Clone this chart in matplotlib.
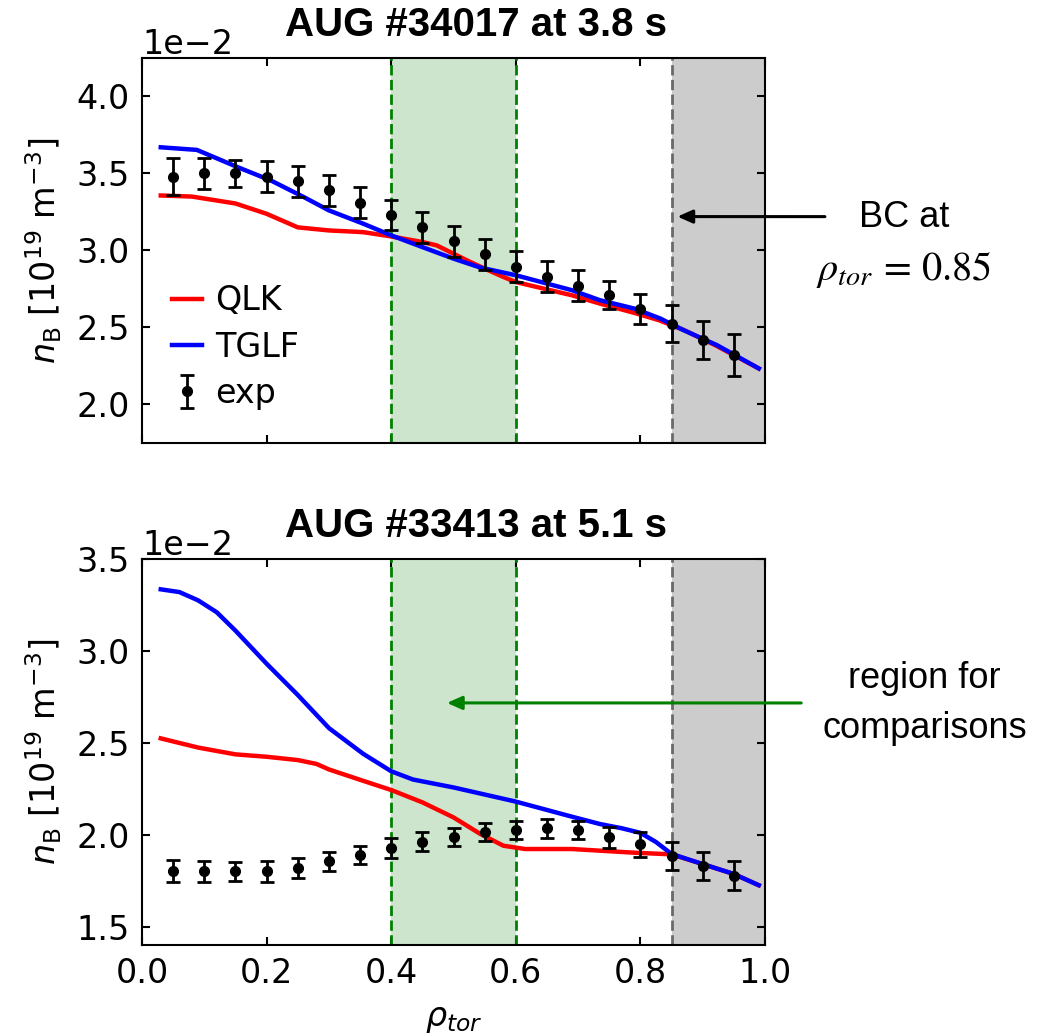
import matplotlib
matplotlib.use("Agg")
import matplotlib.pyplot as plt

# experimental points (both shots share the same radial grid)
rho_exp = [0.05, 0.10, 0.15, 0.20, 0.25, 0.30, 0.35, 0.40, 0.45, 0.50,
           0.55, 0.60, 0.65, 0.70, 0.75, 0.80, 0.85, 0.90, 0.95]

# AUG #34017 at 3.8 s  (values in 1e-2 * 10^19 m^-3)
exp_top = [3.48, 3.50, 3.50, 3.48, 3.45, 3.39, 3.31, 3.23, 3.15, 3.06,
           2.975, 2.895, 2.83, 2.77, 2.71, 2.62, 2.525, 2.42, 2.32]
err_top = [0.12, 0.10, 0.09, 0.10, 0.10, 0.10, 0.10, 0.10, 0.10, 0.10,
           0.10, 0.10, 0.10, 0.10, 0.09, 0.10, 0.12, 0.125, 0.135]
rho_qlk_top = [0.03, 0.08, 0.15, 0.20, 0.25, 0.30, 0.355, 0.40, 0.45, 0.473, 0.50,
               0.527, 0.55, 0.58, 0.60, 0.69, 0.735, 0.79, 0.83, 0.87, 0.92, 0.99]
qlk_top = [3.357, 3.35, 3.305, 3.238, 3.15, 3.13, 3.119, 3.091, 3.055, 3.033, 2.979,
           2.925, 2.882, 2.828, 2.795, 2.709, 2.655, 2.595, 2.547, 2.483, 2.385, 2.234]
rho_tglf_top = [0.03, 0.088, 0.154, 0.207, 0.26, 0.30, 0.355, 0.40, 0.45, 0.50,
                0.543, 0.60, 0.69, 0.735, 0.79, 0.832, 0.869, 0.923, 0.99]
tglf_top = [3.67, 3.653, 3.54, 3.454, 3.346, 3.26, 3.174, 3.098, 3.022, 2.947,
            2.889, 2.839, 2.742, 2.677, 2.623, 2.558, 2.483, 2.385, 2.234]

# AUG #33413 at 5.1 s
exp_bot = [1.80, 1.80, 1.80, 1.80, 1.82, 1.855, 1.891, 1.928, 1.962, 1.989,
           2.013, 2.027, 2.034, 2.024, 1.985, 1.949, 1.886, 1.832, 1.777]
err_bot = [0.06, 0.055, 0.05, 0.055, 0.055, 0.05, 0.05, 0.055, 0.05, 0.05,
           0.05, 0.05, 0.05, 0.05, 0.056, 0.068, 0.076, 0.076, 0.078]
rho_qlk_bot = [0.03, 0.09, 0.15, 0.20, 0.25, 0.28, 0.30, 0.355, 0.40, 0.45, 0.50,
               0.543, 0.58, 0.615, 0.69, 0.735, 0.79, 0.85, 0.90, 0.95, 0.99]
qlk_bot = [2.524, 2.474, 2.437, 2.424, 2.406, 2.385, 2.355, 2.293, 2.243, 2.176, 2.094,
           2.004, 1.94, 1.922, 1.922, 1.913, 1.902, 1.893, 1.84, 1.786, 1.725]
rho_tglf_bot = [0.03, 0.06, 0.09, 0.12, 0.15, 0.20, 0.25, 0.30, 0.355, 0.40, 0.435,
                0.50, 0.60, 0.69, 0.735, 0.77, 0.80, 0.825, 0.85, 0.90, 0.95, 0.99]
tglf_bot = [3.335, 3.32, 3.275, 3.21, 3.11, 2.93, 2.76, 2.58, 2.44, 2.345, 2.30,
            2.257, 2.18, 2.098, 2.058, 2.035, 2.01, 1.96, 1.895, 1.84, 1.786, 1.725]

titles = ["AUG #34017 at 3.8 s", "AUG #33413 at 5.1 s"]
ylims = [(1.75, 4.25), (1.40, 3.50)]
yticks = [[2.0, 2.5, 3.0, 3.5, 4.0], [1.5, 2.0, 2.5, 3.0, 3.5]]

scale = 1e-2

fig = plt.figure(figsize=(10.53, 10.35), dpi=100)
ax_top = fig.add_axes([0.1349, 0.5720, 0.5916, 0.3720])
ax_bot = fig.add_axes([0.1349, 0.0870, 0.5916, 0.3729])

panels = [
    (ax_top, exp_top, err_top, rho_qlk_top, qlk_top, rho_tglf_top, tglf_top),
    (ax_bot, exp_bot, err_bot, rho_qlk_bot, qlk_bot, rho_tglf_bot, tglf_bot),
]

for i, (ax, ex, er, rq, q, rt, t) in enumerate(panels):
    ax.axvspan(0.4, 0.6, color='green', alpha=0.2, lw=0)
    ax.axvspan(0.85, 1.0, color='gray', alpha=0.4, lw=0)
    ax.axvline(0.4, color='green', ls='--', lw=2)
    ax.axvline(0.6, color='green', ls='--', lw=2)
    ax.axvline(0.85, color='dimgray', ls='--', lw=2)

    ax.plot(rq, [v * scale for v in q], color='red', lw=3.2, label='QLK')
    ax.plot(rt, [v * scale for v in t], color='blue', lw=3.2, label='TGLF')
    ax.errorbar(rho_exp, [v * scale for v in ex], yerr=[e * scale for e in er],
                fmt='o', color='black', ms=7, elinewidth=2, capsize=5,
                capthick=2, label='exp', zorder=5)

    ax.set_xlim(0, 1)
    ax.set_ylim(ylims[i][0] * scale, ylims[i][1] * scale)
    ax.set_yticks([v * scale for v in yticks[i]])
    ax.set_xticks([0.0, 0.2, 0.4, 0.6, 0.8, 1.0])
    ax.ticklabel_format(axis='y', style='sci', scilimits=(-2, -2))
    ax.yaxis.get_offset_text().set_fontsize(24)
    ax.tick_params(direction='in', top=True, right=True, length=6, width=1.5,
                   labelsize=24, pad=9)
    for sp in ax.spines.values():
        sp.set_linewidth(1.5)
    ax.set_ylabel(r'$n_\mathrm{B}$ [$10^{19}$ m$^{-3}$]', fontsize=24)
    ax.yaxis.set_label_coords(-0.125, 0.5)

ax_top.tick_params(labelbottom=False)
ax_bot.set_xlabel(r'$\rho_{tor}$', fontsize=24, labelpad=8)

ax_top.legend(loc='lower left', bbox_to_anchor=(0, 0.008), frameon=False,
              fontsize=24, handlelength=0.9, handletextpad=0.4, labelspacing=0.4)

fig.text(0.4525, 0.965, titles[0], ha='center', va='baseline', fontsize=29,
         fontweight='bold', family='Liberation Sans')
fig.text(0.4525, 0.481, titles[1], ha='center', va='baseline', fontsize=29,
         fontweight='bold', family='Liberation Sans')

# boundary condition note
fig.text(0.859, 0.781, 'BC at', ha='center', va='baseline', fontsize=26,
         family='Liberation Sans')
fig.text(0.858, 0.729, r'$\rho_{tor}\,=\,0.85$', ha='center', va='baseline',
         fontsize=29, math_fontfamily='stix')
ax_top.annotate('', xy=(0.855, 0.0322), xycoords='data',
                xytext=(0.786, 0.7907), textcoords='figure fraction',
                arrowprops=dict(arrowstyle='-|>,head_length=0.9,head_width=0.4',
                                color='black', lw=2.2),
                annotation_clip=False)

# comparison window note
fig.text(0.878, 0.335, 'region for', ha='center', va='baseline', fontsize=26,
         family='Liberation Sans')
fig.text(0.878, 0.287, 'comparisons', ha='center', va='baseline', fontsize=26,
         family='Liberation Sans')
ax_bot.annotate('', xy=(0.485, 0.02717), xycoords='data',
                xytext=(0.7635, 0.3208), textcoords='figure fraction',
                arrowprops=dict(arrowstyle='-|>,head_length=0.9,head_width=0.4',
                                color='green', lw=2.2),
                annotation_clip=False)

fig.savefig('out.png', dpi=100)
